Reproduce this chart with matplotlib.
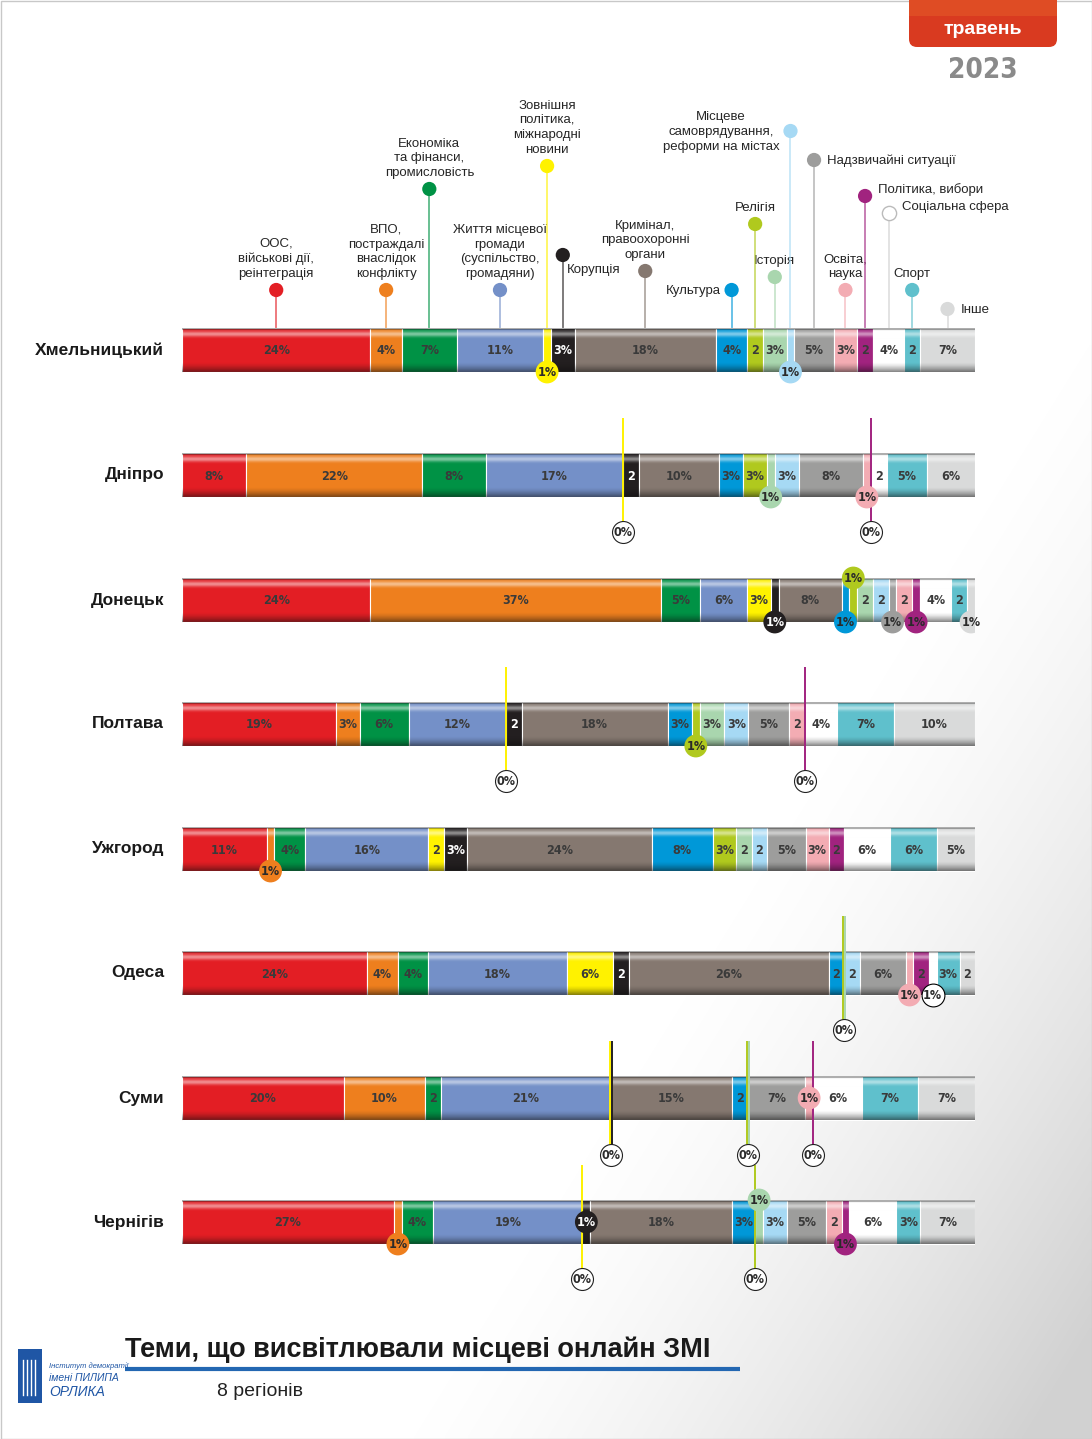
import numpy as np
import matplotlib
matplotlib.use('Agg')
import matplotlib.pyplot as plt
from matplotlib.patches import FancyBboxPatch, Rectangle

# ---------------- data ----------------
categories = ['ООС,\nвійськові дії,\nреінтеграція',
              'ВПО,\nпостраждалі\nвнаслідок\nконфлікту',
              'Економіка\nта фінанси,\nпромисловість',
              'Життя місцевої\nгромади\n(суспільство,\nгромадяни)',
              'Зовнішня\nполітика,\nміжнародні\nновини',
              'Корупція',
              'Кримінал,\nправоохоронні\nоргани',
              'Культура',
              'Релігія',
              'Історія',
              'Місцеве\nсамоврядування,\nреформи на містах',
              'Надзвичайні ситуації',
              'Освіта,\nнаука',
              'Політика, вибори',
              'Соціальна сфера',
              'Спорт',
              'Інше']

regions = ['Хмельницький', 'Дніпро', 'Донецьк', 'Полтава',
           'Ужгород', 'Одеса', 'Суми', 'Чернігів']

khmelnytskyi = [24, 4, 7, 11, 1, 3, 18, 4, 2, 3, 1, 5, 3, 2, 4, 2, 7]
dnipro       = [8, 22, 8, 17, 0, 2, 10, 3, 3, 1, 3, 8, 1, 0, 2, 5, 6]
donetsk      = [24, 37, 5, 6, 3, 1, 8, 1, 1, 2, 2, 1, 2, 1, 4, 2, 1]
poltava      = [19, 3, 6, 12, 0, 2, 18, 3, 1, 3, 3, 5, 2, 0, 4, 7, 10]
uzhhorod     = [11, 1, 4, 16, 2, 3, 24, 8, 3, 2, 2, 5, 3, 2, 6, 6, 5]
odesa        = [24, 4, 4, 18, 6, 2, 26, 2, 0, 0, 2, 6, 1, 2, 1, 3, 2]
sumy         = [20, 10, 2, 21, 0, 0, 15, 2, 0, 0, 0, 7, 1, 0, 6, 7, 7]
chernihiv    = [27, 1, 4, 19, 0, 1, 18, 3, 0, 1, 3, 5, 2, 1, 6, 3, 7]

values = [khmelnytskyi, dnipro, donetsk, poltava, uzhhorod, odesa, sumy, chernihiv]

# zero-value callouts (groups of categories sharing one "0%" marker)
zero_marks = {
    'Дніпро': [[4], [13]],
    'Полтава': [[4], [13]],
    'Одеса': [[8, 9]],
    'Суми': [[4, 5], [8, 9], [13]],
    'Чернігів': [[4], [8]],
}

# ---------------- style ----------------
colors = ['#e31e24', '#ee7f1e', '#009245', '#7490c8', '#fff200', '#231f20',
          '#857870', '#0098d8', '#b0c91e', '#a9d6ae', '#a6d9f4', '#9d9d9c',
          '#f3acb3', '#a1237f', '#ffffff', '#5fc0cc', '#d9dada']

# placement of 1% markers: b = bar bottom, t = bar top, c = centre
one_pos = {
    'Хмельницький': {4: 'b', 10: 'b'},
    'Дніпро': {9: 'b', 12: 'b'},
    'Донецьк': {5: 'b', 7: 'b', 8: 't', 11: 'b', 13: 'b', 16: 'b'},
    'Полтава': {8: 'b'},
    'Ужгород': {1: 'b'},
    'Одеса': {12: 'b', 14: 'b'},
    'Суми': {12: 'c'},
    'Чернігів': {1: 'b', 5: 'c', 9: 't', 13: 'b'},
}

# header legend layout: (circle y px, mode)
header_layout = [(290, 'above'), (290, 'above'), (189, 'above'), (290, 'above'),
                 (166, 'above'), (255, 'corr'), (271, 'above'), (290, 'left'),
                 (224, 'above'), (277, 'above'), (131, 'left'), (160, 'right'),
                 (290, 'above'), (196, 'right'), (213, 'right'), (290, 'above'),
                 (309, 'right')]

NARROW = ['Liberation Sans Narrow', 'DejaVu Sans']
SANS = ['Liberation Sans', 'DejaVu Sans']
NKW = dict(family=NARROW, fontstretch='condensed', fontweight='bold')

W, H = 1092, 1439
X0, X1 = 182, 975
row_y = [350, 475, 600, 724, 849, 973, 1098, 1222]
BH = 44

fig = plt.figure(figsize=(W / 100, H / 100), dpi=100)
bg = fig.add_axes([0, 0, 1, 1])
bg.set_xlim(0, W)
bg.set_ylim(H, 0)
bg.axis('off')

# background gradient (bottom right)
xx, yy = np.meshgrid(np.linspace(0, W, 220), np.linspace(0, H, 290))
d = np.clip(((xx - 620) / 472) * 0.75 + ((yy - 880) / 559) * 0.55 - 0.2, 0, 1)
img = np.ones((290, 220, 4))
img[..., :3] = 0.78
img[..., 3] = d ** 1.4 * 0.8
bg.imshow(img, extent=[0, W, H, 0], aspect='auto', zorder=0, interpolation='bilinear')
bg.set_xlim(0, W)
bg.set_ylim(H, 0)
bg.add_patch(Rectangle((0.5, 0.5), W - 1, H - 1, fill=False, ec='#c8c8c8', lw=1, zorder=1))

ax = fig.add_axes([X0 / W, 0, (X1 - X0) / W, 1])
ax.set_xlim(0, 100)
ax.set_ylim(H, 0)
ax.axis('off')
ax.patch.set_alpha(0)

# gloss gradient for bars
n = 60
t = np.linspace(0, 1, n)
gloss = np.zeros((n, 1, 4))
for i, tt in enumerate(t):
    if tt < 0.05:
        gloss[i, 0] = [0.1, 0.1, 0.1, 0.35]
    elif tt < 0.25:
        a = 0.5 * np.exp(-((tt - 0.13) / 0.06) ** 2)
        gloss[i, 0] = [1, 1, 1, a]
    elif tt > 0.78:
        a = 0.5 * ((tt - 0.78) / 0.22) ** 1.5
        gloss[i, 0] = [0.05, 0.05, 0.05, a]

for r, (name, vals, yc) in enumerate(zip(regions, values, row_y)):
    v = np.array(vals, dtype=float)
    w = v / v.sum() * 100
    left = np.concatenate([[0], np.cumsum(w)[:-1]])
    ax.barh([yc] * len(w), w, left=left, height=BH, color=colors,
            edgecolor='white', linewidth=0.8, zorder=2)
    ax.imshow(gloss, extent=[0, 100, yc + BH / 2, yc - BH / 2], aspect='auto',
              zorder=3, interpolation='bilinear')
    bg.text(164, yc, name, ha='right', va='center', fontsize=12.5,
            fontweight='bold', family=SANS, color='#1a1a1a')
    # labels
    for i, (val, l, wi) in enumerate(zip(vals, left, w)):
        cx = l + wi / 2
        if val >= 2:
            lab = '2' if val == 2 else f'{val}%'
            ax.text(cx, yc + 1, lab, ha='center', va='center', fontsize=9,
                    color='white' if i == 5 else '#3a3a3a', zorder=5, **NKW)
        elif val == 1:
            pos = one_pos.get(name, {}).get(i, 'b')
            cy = {'b': yc + BH / 2, 't': yc - BH / 2, 'c': yc}[pos]
            ec = 'black' if i == 14 else 'none'
            ax.scatter([cx], [cy], s=270, color=colors[i], edgecolors=ec,
                       linewidths=0.8, zorder=6)
            ax.text(cx, cy + 0.5, '1%', ha='center', va='center', fontsize=9,
                    color='white' if i == 5 else '#2a2a2a', zorder=7, **NKW)
    # zero callouts
    for group in zero_marks.get(name, []):
        xpos = left[group[0]]
        offs = np.linspace(-0.12, 0.12, len(group)) if len(group) > 1 else [0]
        for gi, off in zip(group, offs):
            ax.plot([xpos + off, xpos + off], [yc - BH / 2 - 35, yc + BH / 2 + 30],
                    color=colors[gi], lw=1.4, zorder=4, solid_capstyle='butt')
        ax.scatter([xpos], [yc + BH / 2 + 35], s=250, color='white',
                   edgecolors='#222222', linewidths=0.8, zorder=6)
        ax.text(xpos, yc + BH / 2 + 35.5, '0%', ha='center', va='center',
                fontsize=9, color='#2a2a2a', zorder=7, **NKW)

    # header legend on first row
    if r == 0:
        for i, (cat, (cy, mode)) in enumerate(zip(categories, header_layout)):
            cx = left[i] + w[i] / 2
            lc = colors[i] if i not in (14, 16) else '#cfcfcf'
            ax.plot([cx, cx], [cy, yc - BH / 2], color=lc, lw=1.1,
                    alpha=0.75, zorder=1)
            ec = '#bbbbbb' if i == 14 else 'none'
            ax.scatter([cx], [cy], s=105, color=colors[i], edgecolors=ec,
                       linewidths=1.0, zorder=6)
            px = X0 + cx / 100 * (X1 - X0)
            kw = dict(fontsize=9.5, family=SANS, color='#262626',
                      linespacing=1.3, multialignment='center')
            if mode == 'above':
                bg.text(px, cy - 10, cat, ha='center', va='bottom', **kw)
            elif mode == 'left':
                bg.text(px - 11, cy + 1, cat, ha='right', va='center', **kw)
            elif mode == 'right':
                dy = -6 if i in (13, 14) else 1
                bg.text(px + 13, cy + dy, cat, ha='left', va='center', **kw)
            else:  # corruption
                bg.text(px + 4, cy + 15, cat, ha='left', va='center', **kw)

# top-right badge
badge = FancyBboxPatch((909, -20), 148, 67, boxstyle='round,pad=0,rounding_size=8',
                       fc='#d93a20', ec='none', zorder=3)
bg.add_patch(badge)
bg.add_patch(Rectangle((909, -20), 148, 36, fc='#e8632a', ec='none', alpha=0.45, zorder=3))
bg.text(983, 30, 'травень', ha='center', va='center', fontsize=14, fontweight='bold',
        family=SANS, color='white', zorder=4)
bg.text(983, 70, '2023', ha='center', va='center', fontsize=20, color='#8a8a8a',
        zorder=4, **NKW)

# logo
bg.add_patch(Rectangle((18, 1349), 24, 54, fc='#1f56a5', ec='none', zorder=3))
for xo in (23, 27, 31, 35):
    bg.plot([xo, xo], [1360, 1395], color='white', lw=1.0, zorder=4)
bg.text(49, 1366, 'Інститут демократії', fontsize=5.5, style='italic',
        family=SANS, color='#1f56a5', va='center', ha='left')
bg.text(49, 1378, 'імені ПИЛИПА', fontsize=7.5, style='italic',
        family=SANS, color='#1f56a5', va='center', ha='left')
bg.text(49, 1392, 'ОРЛИКА', fontsize=10, style='italic',
        family=SANS, color='#1f56a5', va='center', ha='left')

# title
bg.text(125, 1350, 'Теми, що висвітлювали місцеві онлайн ЗМІ', ha='left',
        va='center', fontsize=19.5, fontweight='bold', family=SANS, color='#1a1a1a')
bg.plot([125, 740], [1369, 1369], color='#2367b2', lw=3, solid_capstyle='butt')
bg.text(217, 1391, '8 регіонів', ha='left', va='center', fontsize=14,
        family=SANS, color='#222222')

fig.savefig('out.png', dpi=100)
